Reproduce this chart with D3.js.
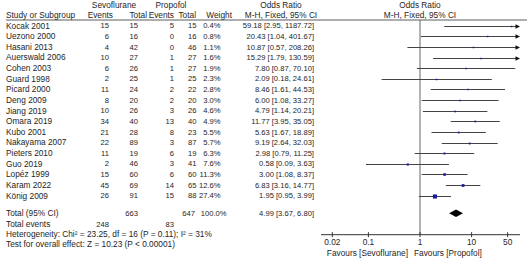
<!DOCTYPE html>
<html lang="en">
<head>
<meta charset="UTF-8">
<title>Forest plot</title>
<style>
body { margin: 0; background: #fff; }
svg { display: block; }
text { font-family: 'Liberation Sans', Arial, sans-serif; font-size: 8.3px; fill: #1e1e1e; }
text.num { font-size: 7.6px; }
</style>
</head>
<body>
<svg width="527" height="258"></svg>
<script src="https://cdn.jsdelivr.net/npm/d3@7"></script>
<script>

var studies = ["Kocak 2001", "Uezono 2000", "Hasani 2013", "Auerswald 2006", "Cohen 2003", "Guard 1998",
    "Picard 2000", "Deng 2009", "Jiang 2019", "Omara 2019", "Kubo 2001", "Nakayama 2007", "Pieters 2010",
    "Guo 2019", "Lopéz 1999", "Karam 2022", "König 2009"];
var sevoEvents = [15, 6, 4, 10, 6, 2, 11, 8, 10, 34, 21, 22, 11, 2, 15, 45, 26];
var sevoTotal = [15, 16, 42, 27, 26, 25, 24, 20, 26, 40, 28, 89, 19, 46, 60, 69, 91];
var propEvents = [5, 0, 0, 1, 1, 1, 2, 2, 3, 13, 8, 3, 6, 3, 6, 14, 15];
var propTotal = [15, 16, 46, 27, 27, 25, 22, 20, 26, 40, 23, 87, 19, 41, 60, 65, 88];
var weights = [0.4, 0.8, 1.1, 1.6, 1.9, 2.3, 2.8, 3.0, 4.6, 4.9, 5.5, 5.7, 6.3, 7.6, 11.3, 12.6, 27.4];
var oddsRatio = [59.18, 20.43, 10.87, 15.29, 7.80, 2.09, 8.46, 6.00, 4.79, 11.77, 5.63, 9.19, 2.98, 0.58, 3.00, 6.83, 1.95];
var lower = [2.95, 1.04, 0.57, 1.79, 0.87, 0.18, 1.61, 1.08, 1.14, 3.95, 1.67, 2.64, 0.79, 0.09, 1.08, 3.16, 0.95];
var upper = [1187.72, 401.67, 208.26, 130.59, 70.10, 24.61, 44.53, 33.27, 20.21, 35.05, 18.89, 32.03, 11.25, 3.63, 8.37, 14.77, 3.99];

var pooled = {or: 4.99, lo: 3.67, hi: 6.80};
var totals = {sevoTotal: 663, propTotal: 647, weight: "100.0%", sevoEvents: 248, propEvents: 83};
var tickValues = [0.02, 0.1, 1, 10, 50];

var svg = d3.select("svg");

var x = d3.scaleLog().domain([0.01, 100]).range([316.8, 523.2]);
var y = d3.scalePoint().domain(studies).range([25.7, 195.7]);

var totalY = 213.3, eventsY = 224, hetY = 234.3, testY = 244.5;
var axisY = 234.7;

var col = {study: 6, sevoE: 109, sevoT: 138, propE: 174, propT: 196.5, weight: 220.5, ci: 314};

var fmt2 = d3.format(".2f");

function addText(t, px, py, anchor, cls) {
    return svg.append("text")
        .attr("class", cls || null)
        .attr("x", px).attr("y", py).attr("dy", "0.35em")
        .attr("text-anchor", anchor || "start")
        .text(t);
}

function addNum(t, px, py) {
    return addText(t, px, py, "end", "num");
}

// headers
addText("Sevoflurane", 114, 5, "middle");
addText("Propofol", 171, 5, "middle");
addText("Odds Ratio", 281, 5, "middle");
addText("Odds Ratio", x(1), 5, "middle");
addText("Study or Subgroup", col.study, 15.5);
addText("Events", 113, 15.5, "end");
addText("Total", 147, 15.5, "end");
addText("Events", 174, 15.5, "end");
addText("Total", 196, 15.5, "end");
addText("Weight", 232, 15.5, "end");
addText("M-H, Fixed, 95% CI", 281, 15.5, "middle");
addText("M-H, Fixed, 95% CI", x(1), 15.5, "middle");

svg.append("line")
    .attr("x1", 6).attr("x2", 527).attr("y1", 20).attr("y2", 20)
    .attr("stroke", "#333").attr("stroke-width", 0.8);

// table rows
studies.forEach(function(s, i) {
    var ry = y(s);
    addText(s, col.study, ry);
    addNum(sevoEvents[i], col.sevoE, ry);
    addNum(sevoTotal[i], col.sevoT, ry);
    addNum(propEvents[i], col.propE, ry);
    addNum(propTotal[i], col.propT, ry);
    addNum(weights[i].toFixed(1) + "%", col.weight, ry);
    addNum(fmt2(oddsRatio[i]) + " [" + fmt2(lower[i]) + ", " + fmt2(upper[i]) + "]", col.ci, ry);
});

addText("Total (95% CI)", col.study, totalY);
addNum(totals.sevoTotal, col.sevoT, totalY);
addNum(totals.propTotal, col.propT - 1.5, totalY);
addNum(totals.weight, col.weight + 6, totalY);
addNum(fmt2(pooled.or) + " [" + fmt2(pooled.lo) + ", " + fmt2(pooled.hi) + "]", col.ci, totalY);

addText("Total events", col.study, eventsY);
addNum(totals.sevoEvents, col.sevoE, eventsY);
addNum(totals.propEvents, col.propE, eventsY);

addText("Heterogeneity: Chi\u00b2 = 23.25, df = 16 (P = 0.11); I\u00b2 = 31%", col.study, hetY);
addText("Test for overall effect: Z = 10.23 (P < 0.00001)", col.study, testY);

// plot
var axisLeft = 321, axisRight = 520;

svg.append("line")
    .attr("x1", x(1)).attr("x2", x(1)).attr("y1", 20).attr("y2", axisY)
    .attr("stroke", "#666").attr("stroke-width", 1);

var rows = svg.append("g");

studies.forEach(function(s, i) {
    var ry = Math.round(y(s)) + 0.5;
    var x1 = Math.max(x(lower[i]), axisLeft);
    var clipped = x(upper[i]) > axisRight;
    var x2 = clipped ? axisRight - 4 : x(upper[i]);
    rows.append("line")
        .attr("x1", x1).attr("x2", x2).attr("y1", ry).attr("y2", ry)
        .attr("stroke", "#444").attr("stroke-width", 1);
    if (clipped) {
        rows.append("path")
            .attr("d", "M" + (axisRight - 4.5) + "," + (ry - 2.2) + "L" + axisRight + "," + ry + "L" + (axisRight - 4.5) + "," + (ry + 2.2) + "Z")
            .attr("fill", "#111");
    }
    var side = Math.max(1.5, 0.78 * Math.sqrt(weights[i]));
    rows.append("rect")
        .attr("x", x(oddsRatio[i]) - side / 2).attr("y", ry - side / 2)
        .attr("width", side).attr("height", side)
        .attr("fill", "#1c1ca0");
});

// pooled diamond
svg.append("path")
    .attr("d", "M" + x(pooled.lo) + "," + totalY +
        "L" + x(pooled.or) + "," + (totalY - 3.7) +
        "L" + x(pooled.hi) + "," + totalY +
        "L" + x(pooled.or) + "," + (totalY + 3.7) + "Z")
    .attr("fill", "#000");

// axis
var axisG = svg.append("g").attr("transform", "translate(0," + axisY + ")");
axisG.append("line")
    .attr("x1", axisLeft).attr("x2", axisRight).attr("y1", 0).attr("y2", 0)
    .attr("stroke", "#333").attr("stroke-width", 1);
axisG.selectAll(".tick")
    .data(tickValues)
    .enter()
    .append("line")
    .attr("x1", function(d) { return x(d); })
    .attr("x2", function(d) { return x(d); })
    .attr("y1", -2.5).attr("y2", 2.5)
    .attr("stroke", "#333").attr("stroke-width", 1);
axisG.selectAll(".ticklabel")
    .data(tickValues)
    .enter()
    .append("text")
    .attr("x", function(d) { return x(d); })
    .attr("y", 7.5).attr("dy", "0.35em")
    .attr("text-anchor", "middle")
    .text(function(d) { return d; });

addText("Favours [Sevoflurane]", 408, 252.7, "end");
addText("Favours [Propofol]", 414, 252.7, "start");

</script>
</body>
</html>
